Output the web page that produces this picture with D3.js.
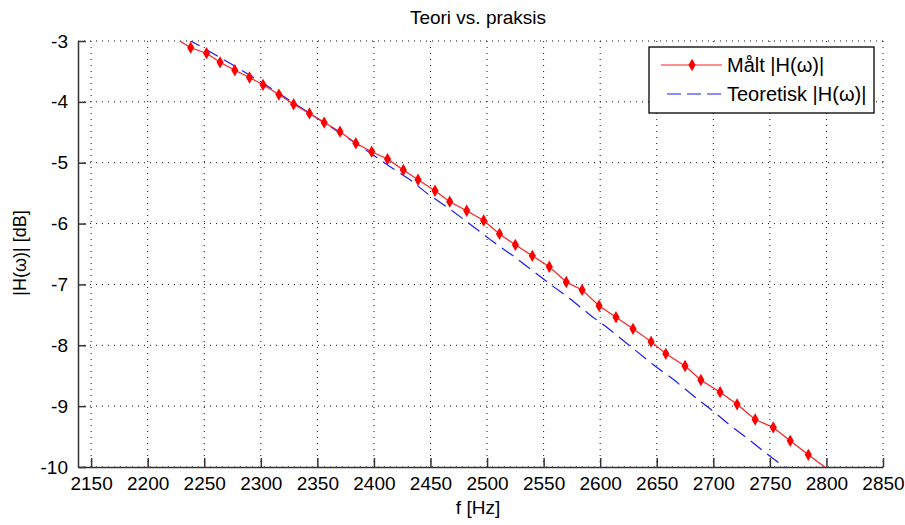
<!DOCTYPE html>
<html>
<head>
<meta charset="utf-8">
<script src="https://cdn.jsdelivr.net/npm/d3@7"></script>
<style>
  body { margin: 0; background: #fff; }
  text { font-family: "Liberation Sans", Arial, sans-serif; fill: #000; }
</style>
</head>
<body>
<div id="canvas"></div>
<script>
// measured curve (red, with markers)
const maltF = [2224, 2238, 2252, 2264, 2277, 2290, 2302, 2316, 2329, 2343, 2356, 2370,
  2384, 2398, 2412, 2426, 2439, 2454, 2467, 2482, 2497, 2511, 2525, 2540, 2555, 2570,
  2584, 2599, 2614, 2629, 2645, 2658, 2675, 2689, 2706, 2721, 2737, 2753, 2768, 2784, 2800];
const maltDb = [-2.95, -3.11, -3.20, -3.35, -3.48, -3.60, -3.72, -3.88, -4.04, -4.19, -4.34, -4.49,
  -4.68, -4.82, -4.94, -5.12, -5.28, -5.46, -5.64, -5.79, -5.95, -6.17, -6.35, -6.53, -6.71, -6.96,
  -7.09, -7.35, -7.54, -7.73, -7.94, -8.14, -8.34, -8.57, -8.77, -8.97, -9.22, -9.35, -9.57, -9.80, -10.02];

// theoretical curve (blue dashed)
const teoriF = [2235, 2250, 2262, 2275, 2300, 2325, 2350, 2375, 2400, 2413, 2432, 2448, 2467,
  2485, 2504, 2523, 2542, 2559, 2575, 2593, 2605, 2625, 2647, 2666, 2685, 2701, 2715, 2731,
  2747, 2760, 2765];
const teoriDb = [-2.97, -3.12, -3.25, -3.39, -3.67, -3.97, -4.27, -4.57, -4.88, -5.05, -5.28, -5.52, -5.76,
  -6.01, -6.28, -6.53, -6.80, -7.04, -7.26, -7.53, -7.69, -7.99, -8.32, -8.58, -8.87, -9.10, -9.32, -9.54,
  -9.78, -9.96, -10.03];

const xTicks = d3.range(2150, 2851, 50);
const yTicks = [-10, -9, -8, -7, -6, -5, -4, -3];

const width = 905, height = 525;
const margin = { top: 41, left: 78, bottom: 58, right: 22 };
const iwidth = width - margin.left - margin.right;
const iheight = height - margin.top - margin.bottom;

const svg = d3.select("#canvas").append("svg")
  .attr("width", width)
  .attr("height", height);

const g = svg.append("g").attr("transform", `translate(${margin.left},${margin.top})`);

const x = d3.scaleLinear().domain([2138.4, 2850]).range([0, iwidth]);
const y = d3.scaleLinear().domain([-10, -3]).range([iheight, 0]);

// dotted grid
g.append("g").selectAll("line").data(xTicks).join("line")
  .attr("x1", d => x(d)).attr("x2", d => x(d))
  .attr("y1", 0).attr("y2", iheight)
  .attr("stroke", "#111").attr("stroke-dasharray", "1,5");
g.append("g").selectAll("line").data(yTicks).join("line")
  .attr("x1", 0).attr("x2", iwidth)
  .attr("y1", d => y(d)).attr("y2", d => y(d))
  .attr("stroke", "#111").attr("stroke-dasharray", "1,5");

// axes (plain hyphen for minus, like the original)
const xAxis = g.append("g")
  .attr("transform", `translate(0,${iheight})`)
  .call(d3.axisBottom(x).tickValues(xTicks).tickFormat(d => String(d)).tickSizeInner(-9).tickSizeOuter(0).tickPadding(10));
const yAxis = g.append("g")
  .call(d3.axisLeft(y).tickValues(yTicks).tickFormat(d => String(d)).tickSizeInner(-8).tickSizeOuter(0).tickPadding(10));
[xAxis, yAxis].forEach(a => {
  a.select(".domain").attr("stroke", "#333").attr("stroke-width", 1.5);
  a.selectAll(".tick line").attr("stroke", "#333").attr("stroke-width", 1.5);
  a.selectAll("text").style("font-size", "19px").attr("fill", "#000");
});

// clip
svg.append("defs").append("clipPath").attr("id", "clip")
  .append("rect").attr("width", iwidth).attr("height", iheight);

const plot = g.append("g").attr("clip-path", "url(#clip)");

const maltData = maltF.map((f, i) => [f, maltDb[i]]);
const teoriData = teoriF.map((f, i) => [f, teoriDb[i]]);

const line = d3.line().x(d => x(d[0])).y(d => y(d[1]));

plot.append("path").datum(teoriData)
  .attr("d", line).attr("fill", "none")
  .attr("stroke", "#1a1aff").attr("stroke-width", 1.2)
  .attr("stroke-dasharray", "14,7");

plot.append("path").datum(maltData)
  .attr("d", line).attr("fill", "none")
  .attr("stroke", "#ff2020").attr("stroke-width", 1.2);

// markers only for points inside the axes (like matlab)
const marker = d3.symbol().type(d3.symbolDiamond).size(44);
g.append("g").selectAll("path")
  .data(maltData.filter(d => d[1] <= -3 && d[1] >= -10))
  .join("path")
  .attr("transform", d => `translate(${x(d[0])},${y(d[1])})`)
  .attr("d", marker).attr("fill", "#ff0000");

// title and labels
svg.append("text").attr("x", 478).attr("y", 24).attr("text-anchor", "middle")
  .style("font-size", "19px").text("Teori vs. praksis");
svg.append("text").attr("x", 478).attr("y", 514).attr("text-anchor", "middle")
  .style("font-size", "19px").text("f [Hz]");
svg.append("text").attr("transform", "translate(26,253) rotate(-90)").attr("text-anchor", "middle")
  .style("font-size", "18px").text("|H(ω)| [dB]");

// legend
const lg = svg.append("g").attr("transform", "translate(649,47)");
lg.append("rect").attr("width", 225).attr("height", 66)
  .attr("fill", "#fff").attr("stroke", "#000").attr("stroke-width", 1.3);
lg.append("line").attr("x1", 12).attr("x2", 73).attr("y1", 18).attr("y2", 18)
  .attr("stroke", "#ff2020").attr("stroke-width", 1.2);
lg.append("path").attr("transform", "translate(43,18)").attr("d", marker).attr("fill", "#ff0000");
lg.append("text").attr("x", 78).attr("y", 25).style("font-size", "20px").text("Målt |H(ω)|");
lg.append("line").attr("x1", 18).attr("x2", 73).attr("y1", 47).attr("y2", 47)
  .attr("stroke", "#1a1aff").attr("stroke-width", 1.2).attr("stroke-dasharray", "14,6");
lg.append("text").attr("x", 78).attr("y", 54).style("font-size", "20px").text("Teoretisk |H(ω)|");
</script>
</body>
</html>
